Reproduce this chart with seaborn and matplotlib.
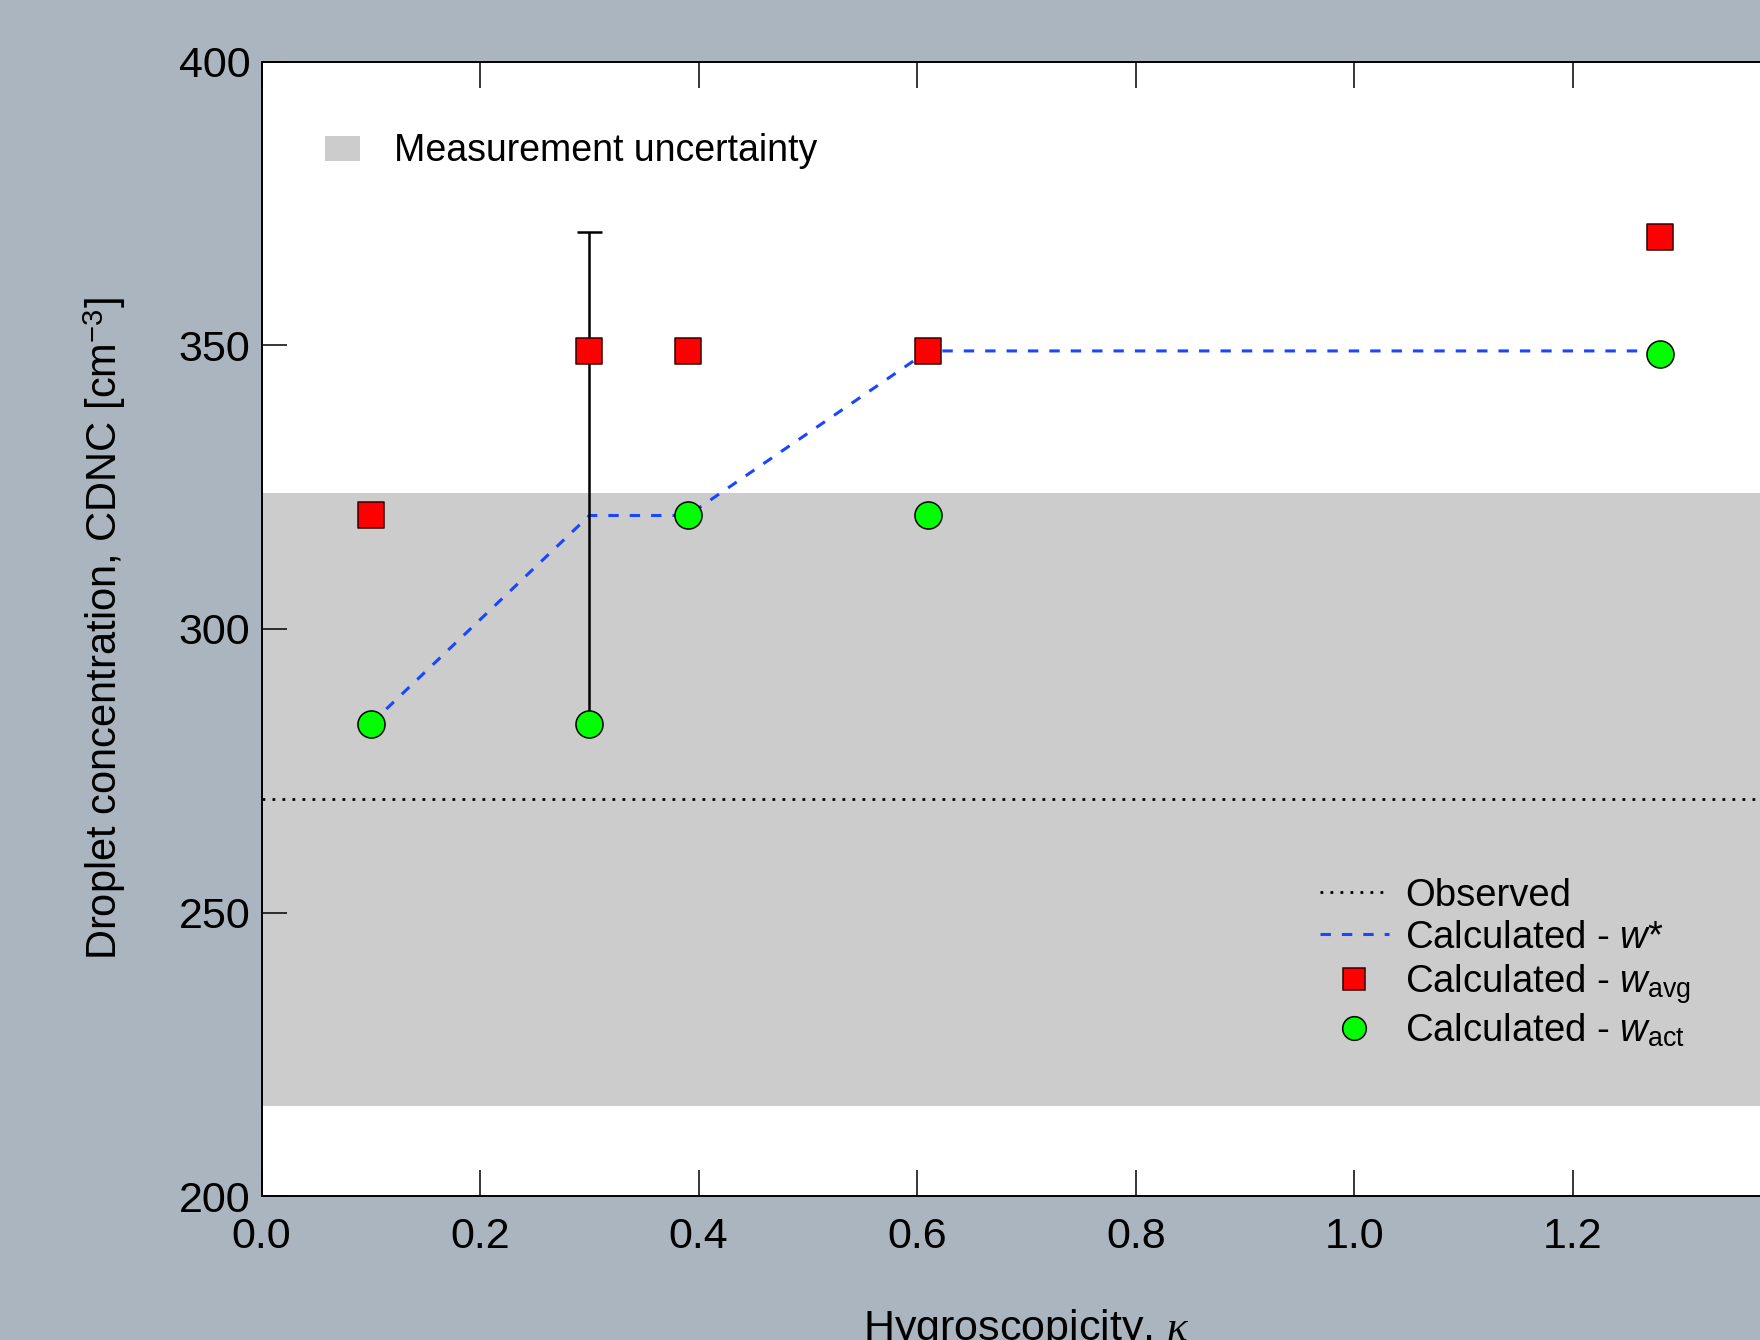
import matplotlib
matplotlib.use("Agg")
import matplotlib.pyplot as plt
from matplotlib.lines import Line2D
from matplotlib.patches import Patch
import seaborn as sns
import pandas as pd

# ---- data ----
kappa = [0.1, 0.3, 0.39, 0.61, 1.28]
cdnc_wavg = [320, 349, 349, 349, 369]
cdnc_wact = [283.3, 283.3, 320, 320, 348.5]
cdnc_wstar = [283.3, 320, 320, 349, 349]
observed_cdnc = 270
uncert_low = 216
uncert_high = 324
err_kappa = [0.3]
err_base = [283.3]
err_top = [370]
x_ticks = [0.0, 0.2, 0.4, 0.6, 0.8, 1.0, 1.2]
y_ticks = [200, 250, 300, 350, 400]

df = pd.DataFrame({"kappa": kappa, "wavg": cdnc_wavg,
                   "wact": cdnc_wact, "wstar": cdnc_wstar})

sns.set_style("ticks")
plt.rcParams["font.family"] = ["Liberation Sans", "DejaVu Sans"]
plt.rcParams["mathtext.fontset"] = "custom"
plt.rcParams["mathtext.rm"] = "Liberation Sans"
plt.rcParams["mathtext.sf"] = "Liberation Sans:italic"
plt.rcParams["mathtext.it"] = "Liberation Serif:italic"
plt.rcParams["text.color"] = "black"
plt.rcParams["axes.labelcolor"] = "black"
plt.rcParams["legend.labelcolor"] = "black"

BG = "#aab5bf"
fig = plt.figure(figsize=(17.6, 13.4), dpi=100, facecolor=BG)
ax = fig.add_axes([0.1486, 0.1071, 0.8693, 0.8470])
ax.set_facecolor("white")

# uncertainty band and observed line
ax.axhspan(uncert_low, uncert_high, color="#cccccc", lw=0, zorder=0)
ax.axhline(observed_cdnc, color="black", lw=2.0, dashes=(1.0, 2.6), zorder=2)

# w* dashed line
sns.lineplot(data=df, x="kappa", y="wstar", sort=False, estimator=None,
             color="#1a46ff", lw=2.2, dashes=False, ax=ax, zorder=3)
ax.lines[-1].set_dashes((3.4, 3.6))

# error bar
ax.errorbar(err_kappa, err_base,
            yerr=[[0], [err_top[0] - err_base[0]]],
            fmt="none", ecolor="black", elinewidth=1.8, capsize=9,
            capthick=1.8, zorder=4)

# markers
sns.scatterplot(data=df, x="kappa", y="wavg", marker="s", s=350,
                color="#ff0000", edgecolor="#330000", linewidth=1.1,
                ax=ax, zorder=5)
sns.scatterplot(data=df, x="kappa", y="wact", marker="o", s=380,
                color="#00ff00", edgecolor="black", linewidth=1.1,
                ax=ax, zorder=5)

ax.set_xlim(0, 1.4)
ax.set_ylim(200, 400)
ax.set_xticks(x_ticks)
ax.set_yticks(y_ticks)
ax.set_xticklabels([f"{t:.1f}" for t in x_ticks])
ax.set_yticklabels([str(t) for t in y_ticks])

for s in ["left", "top", "bottom", "right"]:
    ax.spines[s].set_visible(True)
    ax.spines[s].set_linewidth(1.4)
    ax.spines[s].set_color("black")

ax.tick_params(axis="x", direction="in", length=19, width=1.1, top=True,
               bottom=True, labelsize=31, pad=15, colors="black")
ax.tick_params(axis="y", direction="in", length=18, width=1.1, left=True,
               right=False, labelsize=31, pad=8, colors="black")

ax.set_xlabel(r"Hygroscopicity, $\kappa$", fontsize=31, color="black")
ax.set_ylabel(r"Droplet concentration, CDNC [cm$^{\mathrm{-3}}$]",
              fontsize=30, color="black")
ax.xaxis.set_label_coords(0.5, -0.097)
ax.yaxis.set_label_coords(-0.087, 0.5)

# legend 1: measurement uncertainty
leg1 = ax.legend(handles=[Patch(facecolor="#cccccc", edgecolor="none",
                                label="Measurement uncertainty")],
                 loc="center left", bbox_to_anchor=(0.1847, 0.8870),
                 bbox_transform=fig.transFigure, frameon=False,
                 fontsize=27, borderpad=0, borderaxespad=0,
                 handlelength=0.93, handleheight=0.65, handletextpad=0.9)
ax.add_artist(leg1)

handles = [
    Line2D([], [], color="black", lw=2.0, dashes=(1.0, 2.6),
           label="Observed"),
    Line2D([], [], color="#1a46ff", lw=2.2, dashes=(3.4, 3.6),
           label=r"Calculated - $\mathsf{w}$*"),
    Line2D([], [], color="#ff0000", marker="s", ls="none", markersize=16,
           markeredgecolor="#330000", markeredgewidth=1.1,
           label=r"Calculated - $\mathsf{w}_{\mathrm{avg}}$"),
    Line2D([], [], color="#00ff00", marker="o", ls="none", markersize=17,
           markeredgecolor="black", markeredgewidth=1.1,
           label=r"Calculated - $\mathsf{w}_{\mathrm{act}}$"),
]
ax.legend(handles=handles, loc="upper left", bbox_to_anchor=(0.75, 0.345),
          bbox_transform=fig.transFigure, frameon=False, fontsize=27.5,
          borderpad=0, borderaxespad=0, handlelength=1.8,
          handletextpad=0.42, labelspacing=0.16)

fig.savefig("out.png", dpi=100, facecolor=BG)
